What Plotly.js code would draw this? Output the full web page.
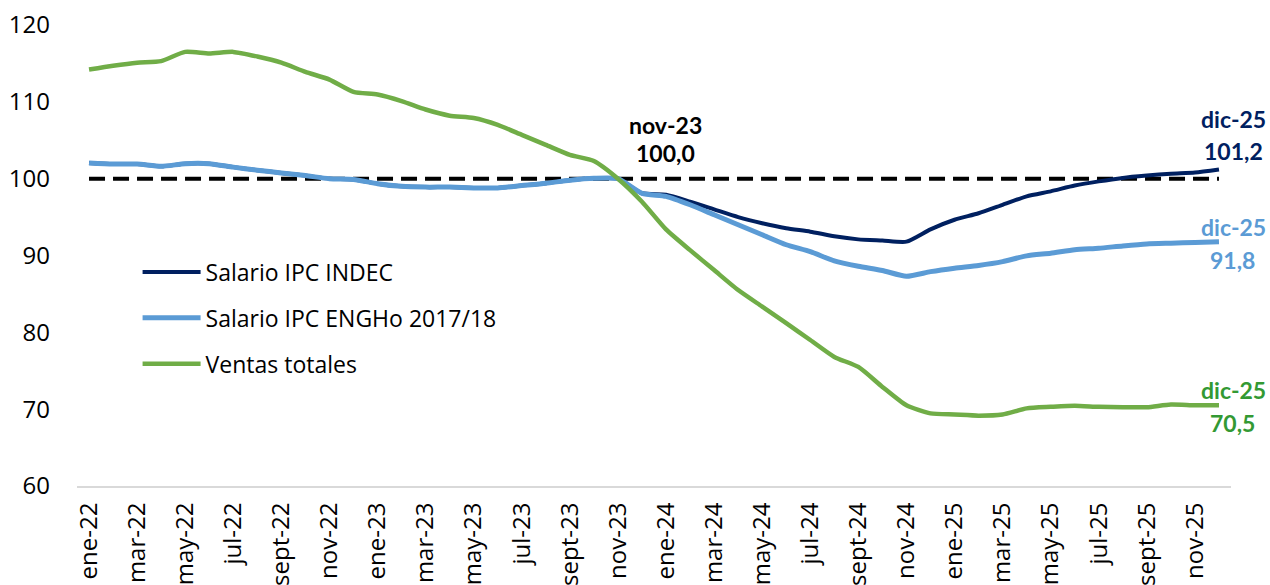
<!DOCTYPE html>
<html>
<head>
<meta charset="utf-8">
<script src="https://cdn.plot.ly/plotly-3.0.1.min.js"></script>
<style>html,body{margin:0;padding:0;background:#fff;}#chart{width:1270px;height:585px;}</style>
</head>
<body>
<div id="chart"></div>
<script>
const months = [
 "ene-22","feb-22","mar-22","abr-22","may-22","jun-22","jul-22","ago-22","sept-22","oct-22","nov-22","dic-22",
 "ene-23","feb-23","mar-23","abr-23","may-23","jun-23","jul-23","ago-23","sept-23","oct-23","nov-23","dic-23",
 "ene-24","feb-24","mar-24","abr-24","may-24","jun-24","jul-24","ago-24","sept-24","oct-24","nov-24","dic-24",
 "ene-25","feb-25","mar-25","abr-25","may-25","jun-25","jul-25","ago-25","sept-25","oct-25","nov-25","dic-25"
];
const tickLabels = ["ene-22","mar-22","may-22","jul-22","sept-22","nov-22","ene-23","mar-23","may-23","jul-23","sept-23","nov-23",
 "ene-24","mar-24","may-24","jul-24","sept-24","nov-24","ene-25","mar-25","may-25","jul-25","sept-25","nov-25"];

const salarioIndec = [
 102.05,101.9,101.9,101.6,101.95,101.95,101.5,101.1,100.75,100.4,100.0,99.9,
 99.35,99.0,98.9,98.9,98.8,98.8,99.1,99.4,99.8,100.05,100.0,98.1,
 97.9,97.0,96.0,95.0,94.2,93.55,93.1,92.5,92.1,91.95,91.8,93.4,
 94.65,95.5,96.6,97.7,98.35,99.1,99.65,100.1,100.4,100.65,100.8,101.2
];
const salarioEngho = [
 102.05,101.9,101.9,101.6,101.95,101.95,101.5,101.1,100.75,100.4,100.0,99.9,
 99.35,99.0,98.9,98.9,98.8,98.8,99.1,99.4,99.8,100.05,100.0,98.1,
 97.7,96.6,95.3,94.0,92.7,91.4,90.5,89.3,88.6,88.05,87.3,87.9,
 88.35,88.7,89.2,89.95,90.3,90.75,90.95,91.25,91.5,91.6,91.7,91.8
];
const ventasTotales = [
 114.2,114.7,115.1,115.3,116.5,116.3,116.5,115.9,115.1,113.9,112.9,111.3,
 110.95,110.1,109.0,108.2,107.9,107.0,105.7,104.4,103.1,102.3,100.0,97.0,
 93.4,90.7,88.1,85.5,83.35,81.2,79.0,76.8,75.5,72.9,70.5,69.45,
 69.3,69.15,69.3,70.1,70.3,70.45,70.3,70.25,70.25,70.6,70.5,70.5
];
const baseLine = months.map(() => 100);

const names = ["Salario IPC INDEC","Salario IPC ENGHo 2017/18","Ventas totales"];
const colors = {indec:"#002060", engho:"#5B9BD5", ventas:"#70AD47", ventasText:"#339933"};

const fmt = v => v.toFixed(1).replace(".", ",");
const last = arr => arr[arr.length-1];
const refIdx = months.indexOf("nov-23");

const traces = [
 {x: months, y: baseLine, type:"scatter", mode:"lines", showlegend:false, hoverinfo:"skip",
  line:{color:"#000", width:4, dash:"16px,8px"}},
 {x: months, y: salarioIndec, type:"scatter", mode:"lines", name:names[0], legendgroup:"a",
  line:{color:colors.indec, width:4, shape:"spline", smoothing:0.6}},
 {x: months, y: salarioEngho, type:"scatter", mode:"lines", name:names[1], legendgroup:"b",
  line:{color:colors.engho, width:5, shape:"spline", smoothing:0.6}},
 {x: months, y: ventasTotales, type:"scatter", mode:"lines", name:names[2], legendgroup:"c",
  line:{color:colors.ventas, width:4.5, shape:"spline", smoothing:0.6}}
];

const annFont = (c) => ({family:"Lato, 'Liberation Sans', sans-serif", size:23, color:c, weight:700});
const lastM = last(months);
const annotations = [
 {x: months[refIdx], y: salarioIndec[refIdx], text:"<b>"+months[refIdx]+"</b>", showarrow:false, xshift:48, yshift:54, font:annFont("#000")},
 {x: months[refIdx], y: salarioIndec[refIdx], text:"<b>"+fmt(100)+"</b>", showarrow:false, xshift:48, yshift:26, font:annFont("#000")},
 {x: lastM, y: last(salarioIndec), text:"<b>"+lastM+"</b>", showarrow:false, xshift:15, yshift:50, font:annFont(colors.indec)},
 {x: lastM, y: last(salarioIndec), text:"<b>"+fmt(last(salarioIndec))+"</b>", showarrow:false, xshift:15, yshift:18, font:annFont(colors.indec)},
 {x: lastM, y: last(salarioEngho), text:"<b>"+lastM+"</b>", showarrow:false, xshift:15, yshift:15, font:annFont(colors.engho)},
 {x: lastM, y: last(salarioEngho), text:"<b>"+fmt(last(salarioEngho))+"</b>", showarrow:false, xshift:14, yshift:-18, font:annFont(colors.engho)},
 {x: lastM, y: last(ventasTotales), text:"<b>"+lastM+"</b>", showarrow:false, xshift:15, yshift:15, font:annFont(colors.ventasText)},
 {x: lastM, y: last(ventasTotales), text:"<b>"+fmt(last(ventasTotales))+"</b>", showarrow:false, xshift:14, yshift:-18, font:annFont(colors.ventasText)}
];

const layout = {
 width:1270, height:585,
 margin:{l:77, r:39, t:25, b:99},
 paper_bgcolor:"#fff", plot_bgcolor:"#fff",
 font:{family:"'Open Sans', 'Noto Sans', sans-serif", color:"#000"},
 showlegend:true,
 legend:{x:0.0525, y:0.511, xanchor:"left", yanchor:"top", bgcolor:"rgba(0,0,0,0)",
  font:{size:23, family:"'Open Sans', 'Noto Sans', sans-serif", color:"#000"}, tracegroupgap:13, itemwidth:58},
 xaxis:{type:"category", range:[-0.5, months.length-0.5], tickvals:tickLabels, ticktext:tickLabels,
  tickangle:-90, showgrid:false, zeroline:false, showline:true, linecolor:"#d9d9d9", linewidth:2,
  ticks:"", tickfont:{size:24, color:"#000"}, ticklabelstandoff:5, fixedrange:true},
 yaxis:{range:[60,120], dtick:10, showgrid:false, zeroline:false, showline:false, ticks:"",
  tickfont:{size:24, color:"#000"}, ticklabelstandoff:26, fixedrange:true},
 annotations: annotations,
 hovermode:false
};

Plotly.newPlot("chart", traces, layout, {displayModeBar:false, staticPlot:true});
</script>
</body>
</html>
